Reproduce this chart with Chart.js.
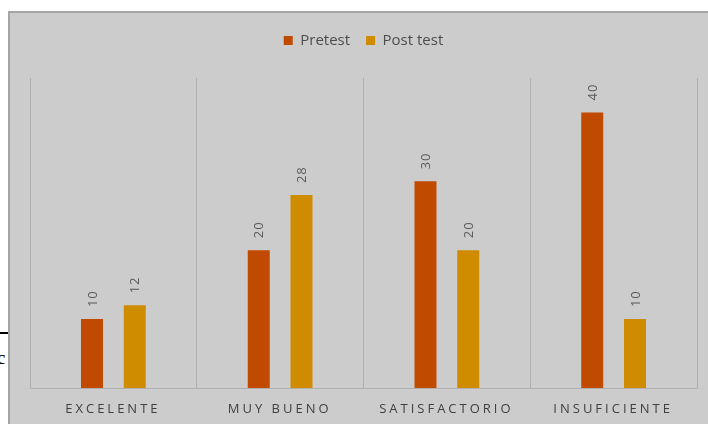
<!DOCTYPE html>
<html lang="es">
  <head>
    <meta charset="UTF-8" />
    <title>Pretest / Post test</title>
    <script src="https://cdn.jsdelivr.net/npm/chart.js"></script>
    <style>
      html, body { margin: 0; padding: 0; background: #fff; overflow: hidden; width: 708px; height: 424px; }
      #frame { position: absolute; left: 8px; top: 11px; width: 720px; height: 440px; background: #cccccc; border: 2px solid #a6a6a6; }
      #chart { position: absolute; left: 10px; top: 13px; }
      #stray-line { position: absolute; left: 0; top: 332px; width: 8px; height: 2px; background: #000; }
      #stray-c { position: absolute; left: -3px; top: 347px; font: 19px "Liberation Serif", serif; color: #000; }
    </style>
  </head>
  <body>
    <div id="stray-line"></div>
    <span id="stray-c">c</span>
    <div id="frame"></div>
    <canvas id="chart" width="698" height="411"></canvas>

    <script>
      const categories = ["EXCELENTE", "MUY BUENO", "SATISFACTORIO", "INSUFICIENTE"];
      const pretest = [10, 20, 30, 40];
      const postTest = [12, 28, 20, 10];
      const seriesNames = ["Pretest", "Post test"];
      const seriesColors = ["#c04b00", "#d08c00"];

      const font = '"Open Sans", "DejaVu Sans", sans-serif';

      // rotated value labels above every bar
      const valueLabels = {
        id: "valueLabels",
        afterDatasetsDraw(chart) {
          const ctx = chart.ctx;
          ctx.save();
          ctx.fillStyle = "#595959";
          ctx.font = "13px " + font;
          ctx.textAlign = "left";
          ctx.textBaseline = "middle";
          ctx.letterSpacing = "1px";
          chart.data.datasets.forEach((ds, i) => {
            chart.getDatasetMeta(i).data.forEach((bar, j) => {
              ctx.save();
              ctx.translate(bar.x + 1, bar.y - 12);
              ctx.rotate(-Math.PI / 2);
              ctx.fillText(String(ds.data[j]), 0, 0);
              ctx.restore();
            });
          });
          ctx.restore();
        },
      };

      // spaced category labels under the axis
      const spacedTicks = {
        id: "spacedTicks",
        afterDraw(chart) {
          const ctx = chart.ctx;
          const xScale = chart.scales.x;
          ctx.save();
          ctx.fillStyle = "#404040";
          ctx.font = "13px " + font;
          ctx.textAlign = "center";
          ctx.textBaseline = "middle";
          ctx.letterSpacing = "3px";
          categories.forEach((c, i) => {
            ctx.fillText(c, xScale.getPixelForValue(i) - 0.5, chart.chartArea.bottom + 21);
          });
          ctx.restore();
        },
      };

      const legendSpace = {
        id: "legendSpace",
        beforeInit(chart) {
          const fit = chart.legend.fit;
          chart.legend.fit = function () {
            fit.bind(chart.legend)();
            this.height += 20;
          };
        },
      };

      new Chart(document.getElementById("chart"), {
        type: "bar",
        data: {
          labels: categories,
          datasets: [
            {
              label: seriesNames[0],
              data: pretest,
              backgroundColor: seriesColors[0],
              categoryPercentage: 0.513,
              barPercentage: 0.514,
            },
            {
              label: seriesNames[1],
              data: postTest,
              backgroundColor: seriesColors[1],
              categoryPercentage: 0.513,
              barPercentage: 0.514,
            },
          ],
        },
        options: {
          responsive: false,
          animation: false,
          layout: { padding: { top: 4, left: 20, right: 11, bottom: 36 } },
          plugins: {
            legend: {
              position: "top",
              labels: {
                boxWidth: 9,
                boxHeight: 9,
                padding: 16,
                color: "#4d4d4d",
                font: { size: 15, family: font },
              },
            },
            tooltip: { enabled: false },
          },
          scales: {
            x: {
              ticks: { display: false },
              grid: { color: "#b0b0b0", drawTicks: false, offset: true },
              border: { color: "#b0b0b0" },
            },
            y: {
              display: false,
              min: 0,
              max: 45,
            },
          },
        },
        plugins: [legendSpace, valueLabels, spacedTicks],
      });
    </script>
  </body>
</html>
